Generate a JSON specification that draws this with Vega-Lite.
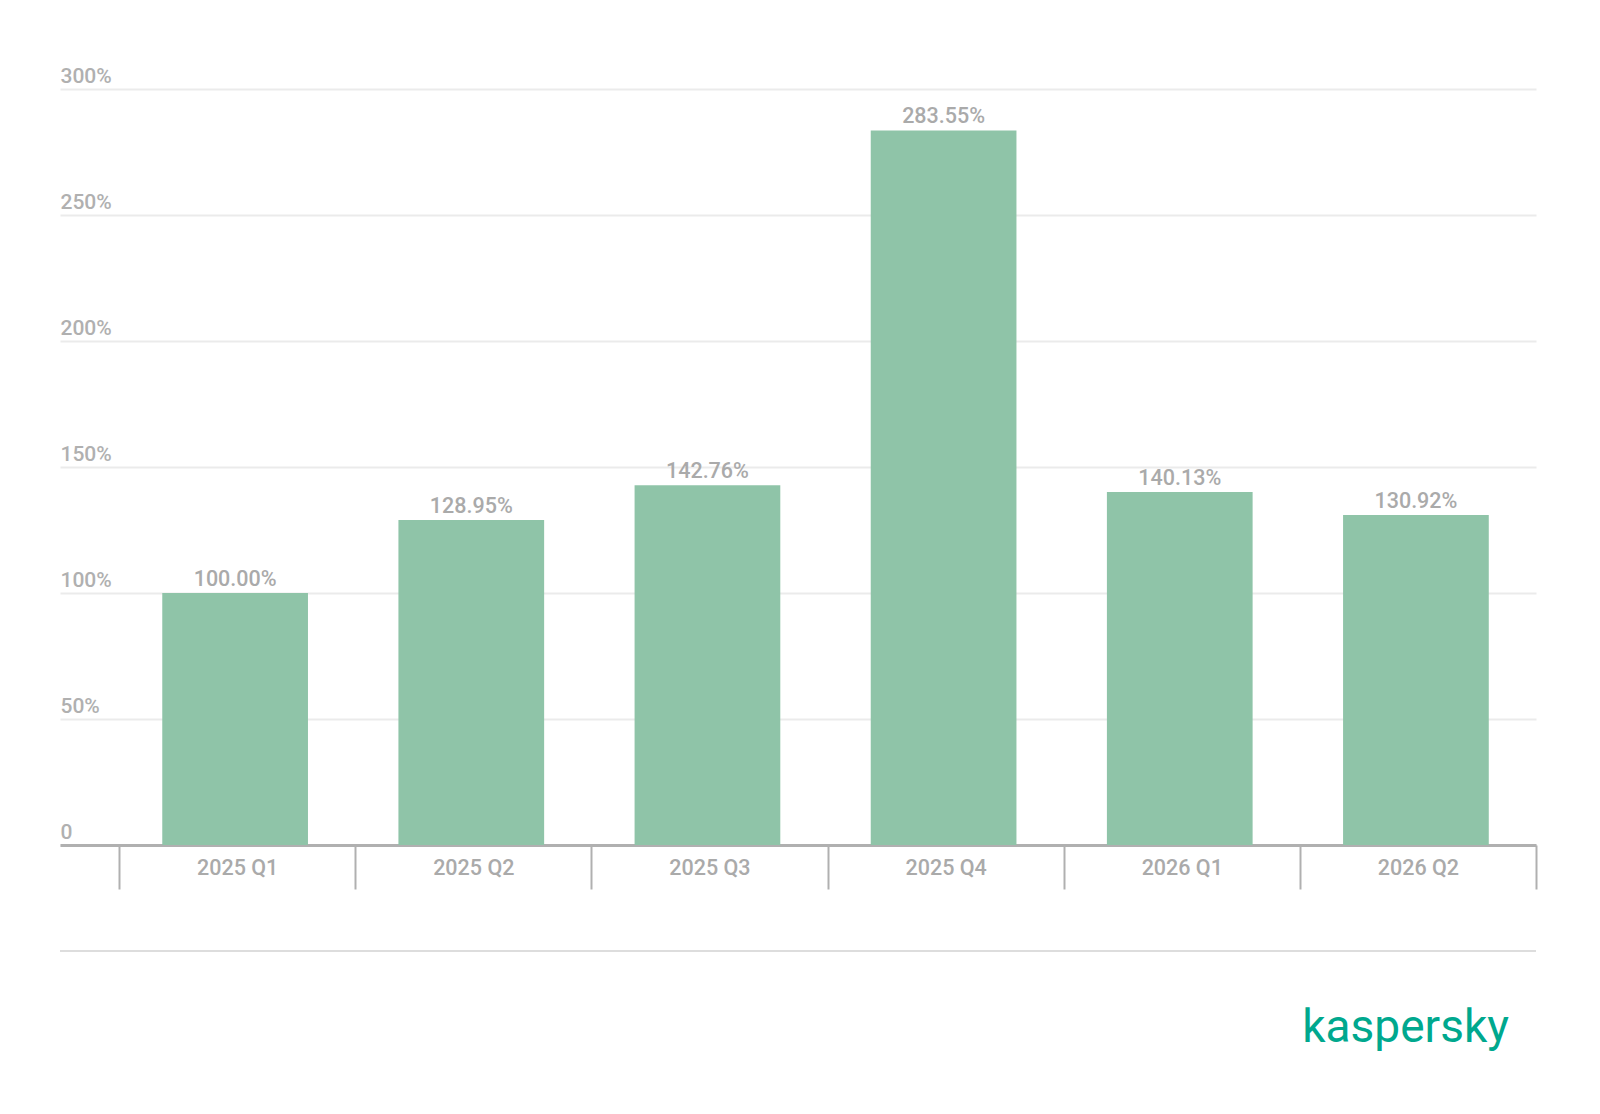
{
  "$schema": "https://vega.github.io/schema/vega-lite/v6.json",
  "width": 1476,
  "height": 862,
  "autosize": {"type": "none"},
  "padding": {"left": 60, "top": 89, "right": 64, "bottom": 163},
  "background": "white",
  "config": {"view": {"stroke": null}, "font": "Roboto"},
  "title": {
    "text": "kaspersky",
    "orient": "bottom",
    "anchor": "end",
    "baseline": "alphabetic",
    "offset": 90,
    "dx": -28,
    "font": "Roboto",
    "fontSize": 46,
    "fontWeight": 400,
    "color": "#00a88e"
  },
  "data": {
    "values": [
      {"quarter": "2025 Q1", "value": 1.0},
      {"quarter": "2025 Q2", "value": 1.2895},
      {"quarter": "2025 Q3", "value": 1.4276},
      {"quarter": "2025 Q4", "value": 2.8355},
      {"quarter": "2026 Q1", "value": 1.4013},
      {"quarter": "2026 Q2", "value": 1.3092}
    ]
  },
  "encoding": {
    "x": {
      "field": "quarter",
      "type": "nominal",
      "sort": null,
      "scale": {"paddingInner": 0, "paddingOuter": 0.125, "align": 1},
      "axis": {
        "title": null,
        "orient": "bottom",
        "offset": -106,
        "labelAngle": 0,
        "domainColor": "#b0b0b0",
        "domainWidth": 3,
        "tickBand": "extent",
        "tickColor": "#b0b0b0",
        "tickWidth": 2,
        "tickSize": 44,
        "labelPadding": -32,
        "labelFontSize": 21.5,
        "labelFontWeight": 500,
        "labelColor": "#aaaaaa",
        "labelFont": "Roboto"
      }
    }
  },
  "layer": [
    {
      "mark": {"type": "rule", "color": "#dddddd", "strokeWidth": 2},
      "encoding": {"x": null, "y": {"datum": -0.4206, "type": "quantitative"}}
    },
    {
      "mark": {"type": "bar", "color": "#8fc4a8", "width": {"band": 0.617}, "xOffset": -2},
      "encoding": {
        "y": {
          "field": "value",
          "type": "quantitative",
          "scale": {"domain": [-0.4206, 3.0], "nice": false, "zero": false},
          "axis": {
            "title": null,
            "orient": "left",
            "domain": false,
            "ticks": false,
            "tickSize": 0,
            "values": [0, 0.5, 1, 1.5, 2, 2.5, 3],
            "labelExpr": "datum.value == 0 ? '0' : format(datum.value, '.0%')",
            "labelAlign": "left",
            "labelBaseline": "alphabetic",
            "labelPadding": 0,
            "labelOffset": -7,
            "labelFontSize": 21,
            "labelFontWeight": 500,
            "labelColor": "#b0b0b0",
            "labelFont": "Roboto",
            "grid": true,
            "gridColor": "#ebebeb",
            "gridWidth": 2
          }
        }
      }
    },
    {
      "mark": {
        "type": "text",
        "baseline": "alphabetic",
        "dy": -7,
        "dx": -2,
        "fontSize": 21.5,
        "fontWeight": 500,
        "color": "#aaaaaa",
        "font": "Roboto"
      },
      "encoding": {
        "y": {"field": "value", "type": "quantitative"},
        "text": {"field": "value", "type": "quantitative", "format": ".2%"}
      }
    }
  ]
}
